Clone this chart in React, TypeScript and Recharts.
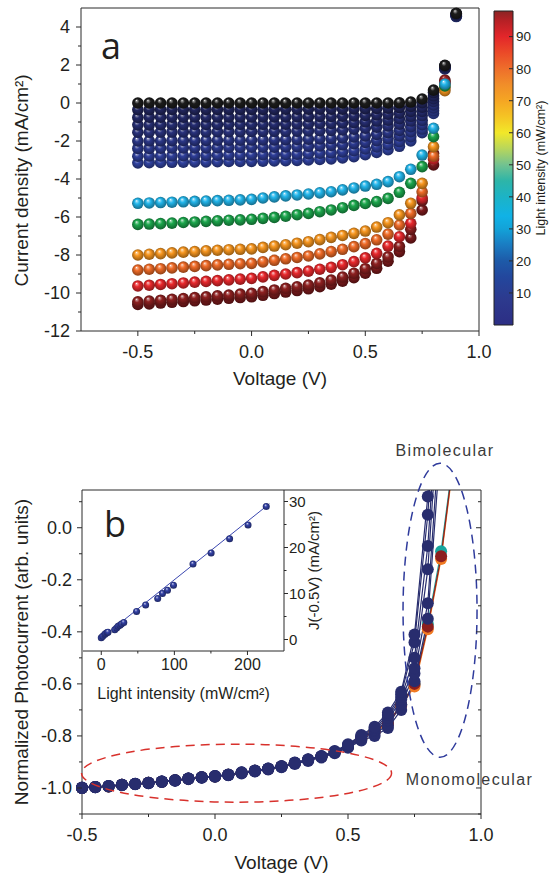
import React from 'react';
import {
  ScatterChart, Scatter, LineChart, Line, ComposedChart, BarChart, Bar,
  XAxis, YAxis, ReferenceDot,
} from 'recharts';

const FONT = '"Liberation Sans", Arial, Helvetica, sans-serif';
const INK = '#2a2a2a';
const TEXT = '#231f20';

// voltage steps (V), shared by both panels
const volts = [-0.5, -0.45, -0.4, -0.35, -0.3, -0.25, -0.2, -0.15, -0.1, -0.05, 0, 0.05, 0.1, 0.15, 0.2, 0.25, 0.3, 0.35, 0.4, 0.45, 0.5, 0.55, 0.6, 0.65, 0.7, 0.75, 0.8, 0.85, 0.9];

// panel a: current density (mA/cm2), one list per light intensity
const jDark = [0, 0, 0, 0, 0, 0, 0, 0, 0, 0, 0, 0, 0, 0, 0, 0, 0, 0, 0, 0, 0, 0, 0, 0.01, 0.05, 0.21, 0.68, 1.98, 4.72];
const jNavy1 = [-0.35, -0.35, -0.34, -0.34, -0.34, -0.34, -0.34, -0.34, -0.34, -0.34, -0.34, -0.34, -0.34, -0.33, -0.33, -0.33, -0.33, -0.32, -0.32, -0.31, -0.30, -0.29, -0.27, -0.24, -0.18, 0.02, 0.55, 1.96, 4.70];
const jNavy2 = [-0.76, -0.75, -0.75, -0.75, -0.75, -0.74, -0.74, -0.74, -0.74, -0.74, -0.74, -0.73, -0.73, -0.73, -0.72, -0.72, -0.71, -0.71, -0.69, -0.68, -0.65, -0.62, -0.59, -0.54, -0.44, -0.22, 0.38, 1.94, 4.68];
const jNavy3 = [-1.15, -1.15, -1.14, -1.14, -1.14, -1.13, -1.13, -1.13, -1.12, -1.12, -1.12, -1.12, -1.11, -1.11, -1.10, -1.10, -1.08, -1.07, -1.05, -1.03, -0.99, -0.95, -0.90, -0.83, -0.70, -0.44, 0.23, 1.91, 4.66];
const jNavy4 = [-1.54, -1.54, -1.53, -1.53, -1.52, -1.52, -1.52, -1.51, -1.51, -1.51, -1.50, -1.50, -1.49, -1.49, -1.48, -1.47, -1.46, -1.44, -1.42, -1.38, -1.33, -1.27, -1.21, -1.11, -0.95, -0.66, 0.08, 1.89, 4.64];
const jNavy5 = [-2.00, -1.99, -1.99, -1.98, -1.97, -1.97, -1.97, -1.96, -1.96, -1.96, -1.95, -1.94, -1.94, -1.93, -1.92, -1.90, -1.89, -1.87, -1.84, -1.79, -1.73, -1.65, -1.56, -1.44, -1.25, -0.91, -0.10, 1.87, 4.61];
const jNavy6 = [-2.39, -2.39, -2.38, -2.37, -2.36, -2.36, -2.36, -2.35, -2.34, -2.34, -2.33, -2.33, -2.32, -2.31, -2.30, -2.28, -2.26, -2.23, -2.20, -2.14, -2.07, -1.98, -1.87, -1.73, -1.51, -1.14, -0.26, 1.84, 4.59];
const jNavy7 = [-2.80, -2.79, -2.79, -2.78, -2.77, -2.76, -2.76, -2.75, -2.74, -2.74, -2.73, -2.72, -2.71, -2.71, -2.69, -2.67, -2.64, -2.62, -2.57, -2.51, -2.42, -2.31, -2.19, -2.03, -1.77, -1.37, -0.41, 1.82, 4.57];
const jNavy8 = [-3.15, -3.14, -3.13, -3.12, -3.11, -3.10, -3.10, -3.09, -3.08, -3.08, -3.07, -3.06, -3.05, -3.04, -3.02, -3.00, -2.97, -2.94, -2.89, -2.82, -2.72, -2.60, -2.46, -2.28, -2.00, -1.56, -0.55, 1.80, 4.55];
const jCyan = [-5.28, -5.26, -5.24, -5.22, -5.20, -5.18, -5.16, -5.14, -5.12, -5.10, -5.07, -5.00, -4.94, -4.89, -4.84, -4.79, -4.73, -4.67, -4.57, -4.47, -4.37, -4.28, -4.14, -3.88, -3.49, -2.74, -1.33, 1.00];
const jGreen = [-6.39, -6.37, -6.35, -6.32, -6.29, -6.26, -6.23, -6.20, -6.17, -6.15, -6.12, -6.07, -6.02, -5.96, -5.88, -5.81, -5.72, -5.63, -5.51, -5.39, -5.29, -5.19, -5.02, -4.70, -4.23, -3.35, -1.77, 0.90];
const jOrangeL = [-8.00, -7.96, -7.93, -7.89, -7.85, -7.82, -7.78, -7.75, -7.72, -7.70, -7.68, -7.60, -7.53, -7.46, -7.38, -7.30, -7.19, -7.07, -6.97, -6.86, -6.74, -6.53, -6.30, -5.89, -5.28, -4.23, -2.30, 0.65];
const jOrangeD = [-8.79, -8.75, -8.72, -8.68, -8.64, -8.60, -8.56, -8.52, -8.49, -8.46, -8.44, -8.36, -8.28, -8.20, -8.13, -8.05, -7.94, -7.82, -7.70, -7.56, -7.40, -7.20, -6.90, -6.42, -5.81, -4.67, -2.80, 0.80];
const jRed = [-9.63, -9.59, -9.55, -9.51, -9.47, -9.43, -9.39, -9.35, -9.31, -9.27, -9.23, -9.15, -9.07, -9.00, -8.93, -8.85, -8.75, -8.65, -8.51, -8.35, -8.15, -7.91, -7.53, -7.04, -6.33, -5.00, -2.95, 1.05];
const jMaroon1 = [-10.46, -10.42, -10.38, -10.33, -10.29, -10.24, -10.20, -10.15, -10.11, -10.06, -10.02, -9.93, -9.84, -9.75, -9.67, -9.58, -9.46, -9.32, -9.16, -8.96, -8.72, -8.44, -8.10, -7.55, -6.65, -5.14, -2.65, 1.21];
const jMaroon2 = [-10.60, -10.57, -10.53, -10.49, -10.45, -10.41, -10.37, -10.33, -10.28, -10.24, -10.20, -10.12, -10.03, -9.95, -9.87, -9.78, -9.67, -9.54, -9.38, -9.19, -8.96, -8.70, -8.33, -7.82, -7.10, -5.63, -3.26, 1.10];

const aXMajor = [-0.5, 0, 0.5, 1];
const aXTicks = [-0.5, -0.25, 0, 0.25, 0.5, 0.75, 1];
const aTopTicks = [-0.46, -0.17, 0.12, 0.41, 0.7];
const aYMajor = [-12, -10, -8, -6, -4, -2, 0, 2, 4];
const aYTicks = [-12, -11, -10, -9, -8, -7, -6, -5, -4, -3, -2, -1, 0, 1, 2, 3, 4];

// colour bar (mW/cm2)
const cbTicks = [10, 20, 30, 40, 50, 60, 70, 80, 90];
const cbStops: [number, string][] = [
  [0, '#2c2e84'], [8, '#2d3a8e'], [15, '#23479d'], [20, '#1d5aa8'], [25, '#1a7cc2'],
  [30, '#13a2d8'], [34, '#10b2e6'], [40, '#1cb3c6'], [45, '#2db5a8'], [50, '#72c290'],
  [55, '#b7d65c'], [60, '#f2e829'], [65, '#f5c424'], [70, '#f5a623'], [75, '#f18e29'],
  [80, '#ee6e2b'], [85, '#eb4a28'], [90, '#e3262a'], [95, '#b62025'], [98, '#8a2424'],
];

// panel b: normalized photocurrent
const bNavy1 = [-1.000, -0.997, -0.993, -0.989, -0.986, -0.982, -0.977, -0.972, -0.966, -0.961, -0.957, -0.951, -0.944, -0.937, -0.929, -0.920, -0.908, -0.896, -0.883, -0.867, -0.845, -0.818, -0.800, -0.770, -0.700, -0.590, -0.350, 0.350, 1.000];
const bNavy2 = [-0.999, -0.997, -0.992, -0.990, -0.985, -0.982, -0.975, -0.971, -0.964, -0.960, -0.955, -0.950, -0.941, -0.936, -0.926, -0.918, -0.904, -0.893, -0.879, -0.864, -0.842, -0.812, -0.790, -0.760, -0.680, -0.560, -0.290, 0.450, 1.100];
const bNavy3 = [-1.000, -0.996, -0.994, -0.988, -0.985, -0.980, -0.976, -0.970, -0.965, -0.959, -0.956, -0.949, -0.942, -0.934, -0.927, -0.917, -0.905, -0.892, -0.880, -0.862, -0.840, -0.808, -0.780, -0.740, -0.660, -0.540, -0.160, 0.600, 1.200];
const bNavy4 = [-0.998, -0.996, -0.992, -0.989, -0.984, -0.981, -0.975, -0.970, -0.964, -0.960, -0.954, -0.949, -0.941, -0.934, -0.926, -0.917, -0.903, -0.892, -0.878, -0.861, -0.837, -0.804, -0.775, -0.730, -0.650, -0.500, -0.070, 0.700, 1.300];
const bNavy5 = [-1.000, -0.997, -0.993, -0.988, -0.985, -0.980, -0.976, -0.971, -0.965, -0.959, -0.955, -0.950, -0.942, -0.935, -0.926, -0.918, -0.904, -0.891, -0.879, -0.860, -0.835, -0.800, -0.770, -0.720, -0.640, -0.440, 0.050, 0.800, 1.400];
const bNavy6 = [-0.999, -0.996, -0.992, -0.988, -0.984, -0.980, -0.975, -0.970, -0.964, -0.959, -0.954, -0.948, -0.940, -0.933, -0.925, -0.916, -0.902, -0.890, -0.877, -0.858, -0.832, -0.796, -0.765, -0.710, -0.630, -0.410, 0.120, 0.900, 1.500];
const bTeal = [-1.000, -0.996, -0.994, -0.988, -0.985, -0.980, -0.976, -0.970, -0.965, -0.959, -0.956, -0.949, -0.942, -0.934, -0.927, -0.917, -0.905, -0.892, -0.880, -0.862, -0.840, -0.810, -0.780, -0.750, -0.680, -0.600, -0.370, -0.090, 0.300];
const bOrange = [-1.000, -0.996, -0.994, -0.988, -0.985, -0.980, -0.976, -0.970, -0.965, -0.959, -0.956, -0.949, -0.942, -0.934, -0.927, -0.917, -0.905, -0.892, -0.880, -0.862, -0.840, -0.810, -0.785, -0.755, -0.685, -0.610, -0.390, -0.120, 0.280];
const bMaroon = [-1.000, -0.996, -0.994, -0.988, -0.985, -0.980, -0.976, -0.970, -0.965, -0.959, -0.956, -0.949, -0.942, -0.934, -0.927, -0.917, -0.905, -0.892, -0.880, -0.862, -0.840, -0.810, -0.780, -0.750, -0.680, -0.600, -0.380, -0.110, 0.290];

const bXMajor = [-0.5, 0, 0.5, 1];
const bXTicks = [-0.5, -0.25, 0, 0.25, 0.5, 0.75, 1];
const bYMajor = [-1, -0.8, -0.6, -0.4, -0.2, 0];
const bYTicks = [-1.1, -1, -0.9, -0.8, -0.7, -0.6, -0.5, -0.4, -0.3, -0.2, -0.1, 0, 0.1];

// inset: J(-0.5V) vs light intensity
const insetI = [0, 2, 4.6, 6, 8, 9.2, 18.4, 21, 23, 25.5, 27.6, 30.8, 48.3, 60.7, 77.2, 83.7, 90.6, 98.8, 125.5, 150.3, 175.6, 200.8, 225.7];
const insetJ = [0.36, 0.7, 1.07, 1.3, 1.5, 1.6, 2.1, 2.5, 2.86, 3.1, 3.35, 3.7, 6.1, 7.5, 8.9, 10.0, 10.7, 11.8, 16.4, 18.8, 21.9, 24.9, 28.9];
const fitI = [0, 230];
const fitJ = [0.3, 29.5];
const insetXMajor = [0, 100, 200];
const insetXTicks = [0, 50, 100, 150, 200];
const insetYMajor = [0, 10, 20, 30];
const insetYTicks = [0, 5, 10, 15, 20, 25, 30];

const seriesA = [
  { key: 'm2', color: '#7c1a1c', values: jMaroon2 },
  { key: 'm1', color: '#8d2020', values: jMaroon1 },
  { key: 'rd', color: '#e8282c', values: jRed },
  { key: 'od', color: '#ef6b27', values: jOrangeD },
  { key: 'ol', color: '#f7961f', values: jOrangeL },
  { key: 'gr', color: '#1ca64c', values: jGreen },
  { key: 'cy', color: '#22b5ea', values: jCyan },
  { key: 'n8', color: '#3143a2', values: jNavy8 },
  { key: 'n7', color: '#2f3f9a', values: jNavy7 },
  { key: 'n6', color: '#2d3b91', values: jNavy6 },
  { key: 'n5', color: '#2b3788', values: jNavy5 },
  { key: 'n4', color: '#29327d', values: jNavy4 },
  { key: 'n3', color: '#262e73', values: jNavy3 },
  { key: 'n2', color: '#242a69', values: jNavy2 },
  { key: 'n1', color: '#22275f', values: jNavy1 },
  { key: 'k', color: '#1c1c1c', values: jDark },
];

const NAVY_B = '#282d6e';
const linesB = [
  { key: 'teal', color: '#17a59d', values: bTeal },
  { key: 'orange', color: '#f07a23', values: bOrange },
  { key: 'maroon', color: '#8c1f1f', values: bMaroon },
  { key: 'c1', color: NAVY_B, values: bNavy1 },
  { key: 'c2', color: NAVY_B, values: bNavy2 },
  { key: 'c3', color: NAVY_B, values: bNavy3 },
  { key: 'c4', color: NAVY_B, values: bNavy4 },
  { key: 'c5', color: NAVY_B, values: bNavy5 },
  { key: 'c6', color: NAVY_B, values: bNavy6 },
];

const rowsB = volts.map((v, i) => {
  const r: any = { v };
  linesB.forEach((l) => { r[l.key] = l.values[i]; });
  return r;
});
const insetRows = insetI.map((i, k) => ({ i, j: insetJ[k] }));
const fitRows = fitI.map((i, k) => ({ i, fit: fitJ[k] }));

const mix = (a: string, b: string, t: number) => {
  const pa = [1, 3, 5].map((i) => parseInt(a.slice(i, i + 2), 16));
  const pb = [1, 3, 5].map((i) => parseInt(b.slice(i, i + 2), 16));
  return '#' + pa.map((v, i) => Math.round(v + (pb[i] - v) * t).toString(16).padStart(2, '0')).join('');
};

const BallGrad = ({ id, color }: { id: string; color: string }) => (
  <radialGradient id={id} cx="50%" cy="50%" r="55%" fx="38%" fy="28%">
    <stop offset="0" stopColor="#ffffff" />
    <stop offset="0.12" stopColor={mix(color, '#ffffff', 0.5)} />
    <stop offset="0.38" stopColor={color} />
    <stop offset="1" stopColor={mix(color, '#000000', 0.45)} />
  </radialGradient>
);

const ball = (id: string, r: number) => (p: any) =>
  <circle cx={p.cx} cy={p.cy} r={r} fill={`url(#${id})`} />;

type Side = 'left' | 'right' | 'bottom' | 'top';
interface TickSpec {
  side: Side;
  majors: number[];
  len?: [number, number];
  inward?: boolean;
  label?: boolean;
  off?: number;
  fs?: number;
  fmt?: (v: number) => string;
}

// draws major/minor tick marks and labels itself, so minor ticks come out shorter
const makeTick = (s: TickSpec) => (p: any) => {
  const v = Number(p.payload.value);
  const major = s.majors.some((m) => Math.abs(m - v) < 1e-6);
  const [lj, ln] = s.len ?? [5, 3];
  const L = major ? lj : ln;
  const horiz = s.side === 'left' || s.side === 'right';
  const outSign = s.side === 'left' || s.side === 'top' ? -1 : 1;
  const sgn = s.inward ? -outSign : outSign;
  const x2 = horiz ? p.x + sgn * L : p.x;
  const y2 = horiz ? p.y : p.y + sgn * L;
  const txt = s.label !== false && major ? (s.fmt ? s.fmt(v) : String(v)) : null;
  const off = s.off ?? 10;
  const ts = { fill: TEXT, fontSize: s.fs ?? 18, fontFamily: FONT };
  let t = null;
  if (txt && s.side === 'left') t = <text x={p.x - off} y={p.y} dy="0.36em" textAnchor="end" style={ts}>{txt}</text>;
  if (txt && s.side === 'right') t = <text x={p.x + off} y={p.y} dy="0.36em" textAnchor="start" style={ts}>{txt}</text>;
  if (txt && s.side === 'bottom') t = <text x={p.x} y={p.y + off} textAnchor="middle" style={ts}>{txt}</text>;
  return (
    <g>
      <line x1={p.x} y1={p.y} x2={x2} y2={y2} stroke={INK} strokeWidth={1} />
      {t}
    </g>
  );
};

const f1 = (v: number) => v.toFixed(1);
const titleStyle = { fill: TEXT, fontSize: 19, fontFamily: FONT };
const axisCommon = { stroke: INK, tickLine: false, tickSize: 0, tickMargin: 0, interval: 0 as const };

const panelLetter = (ch: string) => (p: any) => (
  <text x={p.cx} y={p.cy} fontSize={36} fontFamily='"Open Sans", "Noto Sans", sans-serif' fill={TEXT}>{ch}</text>
);

const blueEllipse = (p: any) => (
  <g>
    <ellipse cx={p.cx} cy={p.cy} rx={37} ry={147} fill="none" stroke="#2f3b9c" strokeWidth={1.5} strokeDasharray="9 6" />
    <text x={p.cx + 5} y={p.cy - 154} textAnchor="middle" fontSize={16} letterSpacing={1.4} fontFamily={FONT} fill="#3a3a3a">Bimolecular</text>
  </g>
);

const redEllipse = (p: any) => (
  <g>
    <ellipse cx={p.cx} cy={p.cy} rx={155} ry={29} fill="none" stroke="#d8312c" strokeWidth={1.5} strokeDasharray="9 6" />
    <text x={p.cx + 233} y={p.cy + 12} textAnchor="middle" fontSize={16} letterSpacing={1.4} fontFamily={FONT} fill="#3a3a3a">Monomolecular</text>
  </g>
);

const App: React.FC = () => {
  return (
    <div style={{ position: 'relative', width: 550, height: 876, background: '#fff', overflow: 'hidden' }}>
      <style>{`body { margin: 0; }`}</style>

      <svg width={0} height={0} style={{ position: 'absolute' }}>
        <defs>
          {seriesA.map((s) => <BallGrad key={s.key} id={`ball-${s.key}`} color={s.color} />)}
          <BallGrad id="ball-inset" color="#3341a5" />
          <linearGradient id="cbarGrad" x1="0" y1="1" x2="0" y2="0">
            {cbStops.map(([v, c]) => <stop key={v} offset={v / 98} stopColor={c} />)}
          </linearGradient>
        </defs>
      </svg>

      {/* panel a */}
      <div style={{ position: 'absolute', left: 0, top: 0 }}>
        <ScatterChart width={550} height={400} margin={{ top: 7, right: 70, bottom: 0, left: 21 }}>
          <XAxis dataKey="x" type="number" domain={[-0.75, 1]} ticks={aXTicks} height={69} {...axisCommon}
            tick={makeTick({ side: 'bottom', majors: aXMajor, off: 27, fmt: f1 })}
            label={{ value: 'Voltage (V)', position: 'insideBottom', offset: 15, style: titleStyle }} />
          <XAxis xAxisId="top" dataKey="x" orientation="top" type="number" domain={[-0.75, 1]} ticks={aTopTicks} height={1} {...axisCommon}
            tick={makeTick({ side: 'top', majors: aTopTicks, inward: true, len: [4, 4], label: false })} />
          <YAxis type="number" domain={[-12, 5]} ticks={aYTicks} width={60} {...axisCommon}
            tick={makeTick({ side: 'left', majors: aYMajor, off: 11 })}
            label={{ value: 'Current density (mA/cm²)', angle: -90, position: 'insideLeft', offset: 0.5, dy: 11, style: { ...titleStyle, textAnchor: 'middle' } }} />
          <YAxis yAxisId="right" orientation="right" type="number" domain={[-12, 5]} ticks={aYTicks} width={1} {...axisCommon}
            tick={makeTick({ side: 'right', majors: aYMajor, inward: true, label: false })} />
          {seriesA.map((s) => (
            <Scatter key={s.key} dataKey="y" data={s.values.map((y, i) => ({ x: volts[i], y }))}
              shape={ball(`ball-${s.key}`, 5.8)} isAnimationActive={false} />
          ))}
          <ReferenceDot x={-0.662} y={2.32} r={0} shape={panelLetter('a')} />
        </ScatterChart>
      </div>

      {/* colour bar */}
      <div style={{ position: 'absolute', left: 480, top: 0 }}>
        <BarChart width={70} height={340} data={[{ k: 'cb', v: 98 }]} barCategoryGap={0}
          margin={{ top: 11, right: 0, bottom: 15, left: 14 }}>
          <XAxis dataKey="k" hide />
          <YAxis orientation="right" type="number" domain={[0, 98]} ticks={cbTicks} width={37} axisLine={false} {...axisCommon}
            tick={makeTick({ side: 'right', majors: cbTicks, inward: true, len: [4, 4], off: 3, fs: 13.5 })}
            label={{ value: 'Light intensity (mW/cm²)', angle: -90, position: 'insideRight', offset: 9, style: { fill: TEXT, fontSize: 12.5, fontFamily: FONT, textAnchor: 'middle' } }} />
          <Bar dataKey="v" fill="url(#cbarGrad)" stroke="#222" strokeWidth={1} isAnimationActive={false} />
        </BarChart>
      </div>

      {/* panel b */}
      <div style={{ position: 'absolute', left: 0, top: 440 }}>
        <LineChart width={550} height={436} data={rowsB} margin={{ top: 49, right: 68, bottom: 0, left: 20 }}>
          <XAxis dataKey="v" type="number" domain={[-0.5, 1]} ticks={bXTicks} height={62} {...axisCommon}
            tick={makeTick({ side: 'bottom', majors: bXMajor, off: 27, fmt: f1 })}
            label={{ value: 'Voltage (V)', position: 'insideBottom', offset: 7, style: titleStyle }} />
          <XAxis xAxisId="top" dataKey="v" orientation="top" type="number" domain={[-0.5, 1]} height={1} stroke={INK} tick={false} tickLine={false} />
          <YAxis type="number" domain={[-1.1, 0.145]} allowDataOverflow ticks={bYTicks} width={62} {...axisCommon}
            tick={makeTick({ side: 'left', majors: bYMajor, off: 10, fmt: f1 })}
            label={{ value: 'Normalized Photocurrent (arb. units)', angle: -90, position: 'insideLeft', offset: 1, style: { ...titleStyle, textAnchor: 'middle' } }} />
          <YAxis yAxisId="right" orientation="right" type="number" domain={[-1.1, 0.145]} allowDataOverflow ticks={bYTicks} width={1} {...axisCommon}
            tick={makeTick({ side: 'right', majors: bYMajor, inward: true, label: false })} />
          {linesB.map((l) => (
            <Line key={l.key} type="linear" dataKey={l.key} stroke={l.color} strokeWidth={1.2}
              dot={{ r: 6, fill: l.color, stroke: l.color, strokeWidth: 0, clipDot: false }}
              activeDot={false} isAnimationActive={false} />
          ))}
          <ReferenceDot x={0.846} y={-0.317} r={0} shape={blueEllipse} />
          <ReferenceDot x={0.081} y={-0.943} r={0} shape={redEllipse} />
          <ReferenceDot x={-0.417} y={-0.036} r={0} shape={panelLetter('b')} />
        </LineChart>
      </div>

      {/* inset */}
      <div style={{ position: 'absolute', left: 0, top: 440 }}>
        <ComposedChart width={550} height={300} data={fitRows} margin={{ top: 50, right: 226, bottom: 53, left: 83 }}>
          <XAxis dataKey="i" type="number" domain={[-25, 250]} ticks={insetXTicks} height={36} {...axisCommon}
            tick={makeTick({ side: 'bottom', majors: insetXMajor, len: [4, 2.5], off: 19, fs: 16 })}
            label={{ value: 'Light intensity (mW/cm²)', position: 'bottom', offset: 1, style: { fill: TEXT, fontSize: 16, fontFamily: FONT } }} />
          <YAxis orientation="right" type="number" domain={[-2.5, 32.5]} ticks={insetYTicks} width={40} {...axisCommon}
            tick={makeTick({ side: 'right', majors: insetYMajor, len: [4, 2.5], off: 5, fs: 15 })}
            label={{ value: 'J(-0.5V) (mA/cm²)', angle: -90, position: 'insideLeft', offset: 30, style: { fill: TEXT, fontSize: 15, fontFamily: FONT, textAnchor: 'middle' } }} />
          <Line type="linear" dataKey="fit" stroke="#3b47b0" strokeWidth={1} dot={false} activeDot={false} isAnimationActive={false} />
          <Scatter data={insetRows} dataKey="j" shape={ball('ball-inset', 3.5)} isAnimationActive={false} />
        </ComposedChart>
      </div>
    </div>
  );
};

export default App;
